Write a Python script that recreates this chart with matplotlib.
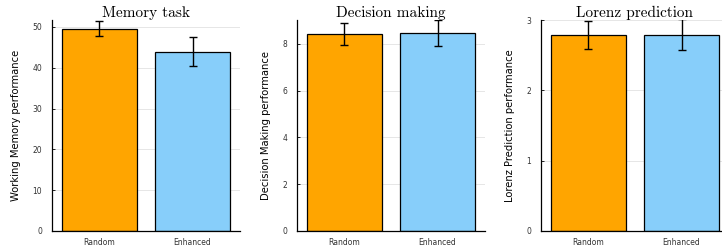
import matplotlib
matplotlib.use("Agg")
import matplotlib.pyplot as plt

categories = ["Random", "Enhanced"]
titles = ["Memory task", "Decision making", "Lorenz prediction"]
ylabels = ["Working Memory performance", "Decision Making performance", "Lorenz Prediction performance"]
memory_vals = [49.6, 43.9]
memory_err = [1.9, 3.55]
decision_vals = [8.43, 8.45]
decision_err = [0.48, 0.55]
lorenz_vals = [2.79, 2.79]
lorenz_err = [0.2, 0.22]
ylims = [(0, 51.7), (0, 9.02), (0, 3.0)]
yticks = [[0, 10, 20, 30, 40, 50], [0, 2, 4, 6, 8], [0, 1, 2, 3]]
colors = ["#FFA500", "#87CEFA"]

W, H = 722, 250
fig = plt.figure(figsize=(W / 100, H / 100), dpi=100)
lefts = [52, 297, 541]
axw, bottom, top = 188, 231, 20

data = [(memory_vals, memory_err), (decision_vals, decision_err), (lorenz_vals, lorenz_err)]
for i, (vals, errs) in enumerate(data):
    ax = fig.add_axes([lefts[i] / W, 1 - bottom / H, axw / W, (bottom - top) / H])
    x = [1, 2]
    ax.bar(x, vals, width=0.8, color=colors, edgecolor="black", linewidth=0.9, zorder=2)
    ax.errorbar(x, vals, yerr=errs, fmt="none", ecolor="black", elinewidth=1.0,
                capsize=3, capthick=1.0, zorder=3)
    ax.set_xlim(0.49, 2.51)
    ax.set_ylim(*ylims[i])
    ax.set_yticks(yticks[i])
    ax.set_xticks(x)
    ax.set_xticklabels(categories)
    ax.tick_params(axis="both", labelsize=5.5, direction="in", length=2.5, width=0.6,
                   colors="black", labelcolor="#333333")
    ax.tick_params(axis="y", pad=7)
    ax.tick_params(axis="x", length=0, pad=5)
    ax.grid(axis="y", color="#e6e6e6", linewidth=0.7, zorder=0)
    ax.set_axisbelow(True)
    for s in ["top", "right"]:
        ax.spines[s].set_visible(False)
    for s in ["left", "bottom"]:
        ax.spines[s].set_linewidth(0.9)
    ax.set_ylabel(ylabels[i], fontsize=7.2, labelpad=8)
    ax.set_title(titles[i], fontsize=11, family="cmr10", pad=-1)

fig.savefig("out.png", dpi=100, facecolor="white")
